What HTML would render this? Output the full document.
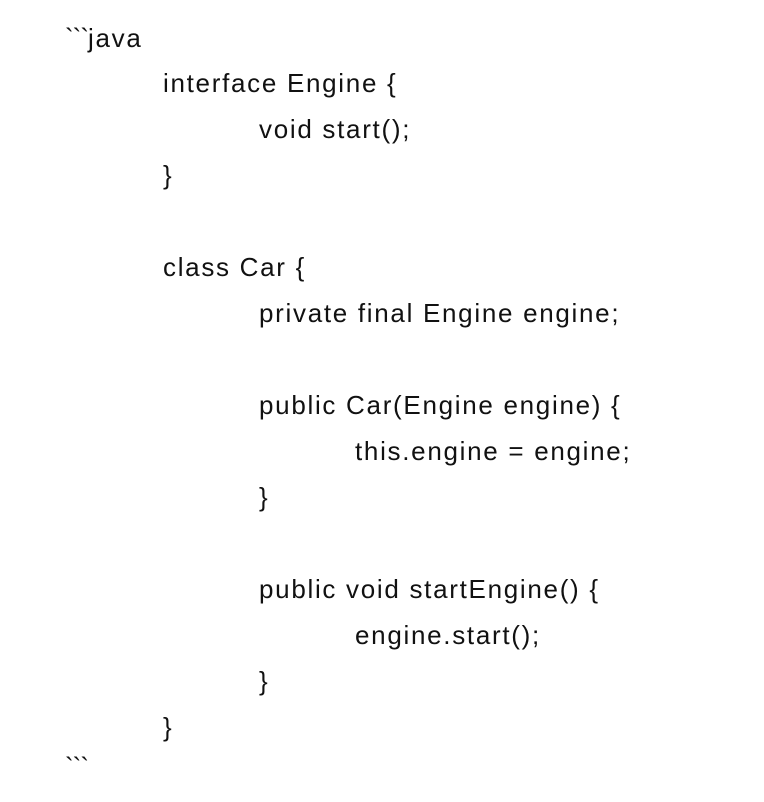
<!DOCTYPE html>
<html><head><meta charset="utf-8"><style>
body{margin:0;width:764px;height:802px;background:#fff;position:relative;overflow:hidden}
.l{position:absolute;font-family:"Liberation Sans",sans-serif;font-size:26px;color:#111;white-space:pre;line-height:30px;letter-spacing:1.7px}
.b{letter-spacing:-1px}
</style></head><body>
<div class="l" style="left:65px;top:23px"><span class="b">&#96;&#96;&#96;</span>java</div>
<div class="l" style="left:163px;top:68px">interface Engine {</div>
<div class="l" style="left:259px;top:114px">void start();</div>
<div class="l" style="left:163px;top:160px">}</div>
<div class="l" style="left:163px;top:252px">class Car {</div>
<div class="l" style="left:259px;top:298px">private final Engine engine;</div>
<div class="l" style="left:259px;top:390px">public Car(Engine engine) {</div>
<div class="l" style="left:355px;top:436px">this.engine = engine;</div>
<div class="l" style="left:259px;top:482px">}</div>
<div class="l" style="left:259px;top:574px">public void startEngine() {</div>
<div class="l" style="left:355px;top:620px">engine.start();</div>
<div class="l" style="left:259px;top:666px">}</div>
<div class="l" style="left:163px;top:712px">}</div>
<div class="l" style="left:65px;top:752px"><span class="b">&#96;&#96;&#96;</span></div>
</body></html>
